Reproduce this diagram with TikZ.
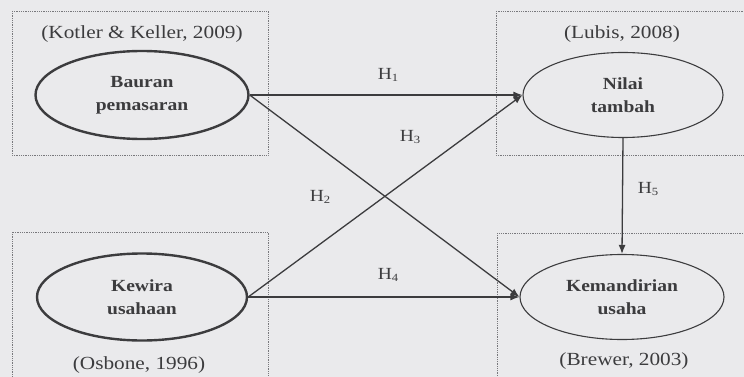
\documentclass[tikz,border=0pt]{standalone}
\usepackage{fontspec}
\setmainfont{Liberation Serif}[FakeStretch=1.15]
\usetikzlibrary{shapes.geometric,arrows.meta}
\definecolor{bg}{RGB}{234,234,236}
\definecolor{ink}{RGB}{60,60,62}
\definecolor{boxc}{RGB}{120,120,124}
\tikzset{
  var/.style={ellipse, draw=ink, inner sep=0pt, align=center, text=ink,
    font=\fontsize{17}{23}\selectfont\bfseries},
  thickvar/.style={var, line width=2.4pt},
  thinvar/.style={var, line width=1.1pt},
  cite/.style={text=ink, font=\fontsize{18.5}{20}\selectfont, inner sep=0pt},
  hlab/.style={text=ink, font=\fontsize{17}{18}\selectfont, inner sep=0pt},
  frame/.style={draw=boxc, densely dotted, line width=0.8pt},
  link/.style={draw=ink, line width=1.3pt, -{Latex[length=9pt,width=7pt]}}
}
\newcommand{\hl}[1]{H\raisebox{-0.15ex}{\fontsize{11}{11}\selectfont #1}}
\begin{document}
\begin{tikzpicture}[x=1pt,y=-1pt]
\fill[bg] (0,0) rectangle (744,377);
\useasboundingbox (0,0) rectangle (744,377);
\begin{scope}
\clip (0,0) rectangle (744,377);
\draw[frame] (12,11) rectangle (268,155);
\draw[frame] (496,11) rectangle (760,155);
\draw[frame] (12,232) rectangle (268,390);
\draw[frame] (497,233) rectangle (760,390);
\end{scope}

\node[cite] (c1) at (142,34) {(Kotler \& Keller, 2009)};
\node[cite] (c2) at (622,34) {(Lubis, 2008)};
\node[cite] (c3) at (139,365) {(Osbone, 1996)};
\node[cite] (c4) at (624,361) {(Brewer, 2003)};

\node[thickvar, minimum width=213pt, minimum height=88pt] (bauran) at (142,95) {Bauran\\pemasaran};
\node[thinvar, minimum width=200pt, minimum height=85pt] (nilai) at (623,95) {Nilai\\tambah};
\node[thickvar, minimum width=210pt, minimum height=87pt] (kewira) at (142,297) {Kewira\\usahaan};
\node[thinvar, minimum width=204pt, minimum height=85pt] (mandiri) at (622,297) {Kemandirian\\usaha};

\draw[link] (bauran.east) -- (nilai.west);
\draw[link] (bauran.east) -- (mandiri.west);
\draw[link] (kewira.east) -- (nilai.west);
\draw[link] (kewira.east) -- (mandiri.west);
\draw[link] (nilai.south) -- (mandiri.north);

\node[hlab] (h1) at (388,75) {\hl{1}};
\node[hlab] (h3) at (410,137) {\hl{3}};
\node[hlab] (h2) at (320,197) {\hl{2}};
\node[hlab] (h4) at (388,275) {\hl{4}};
\node[hlab] (h5) at (648,189) {\hl{5}};
\end{tikzpicture}
\end{document}
